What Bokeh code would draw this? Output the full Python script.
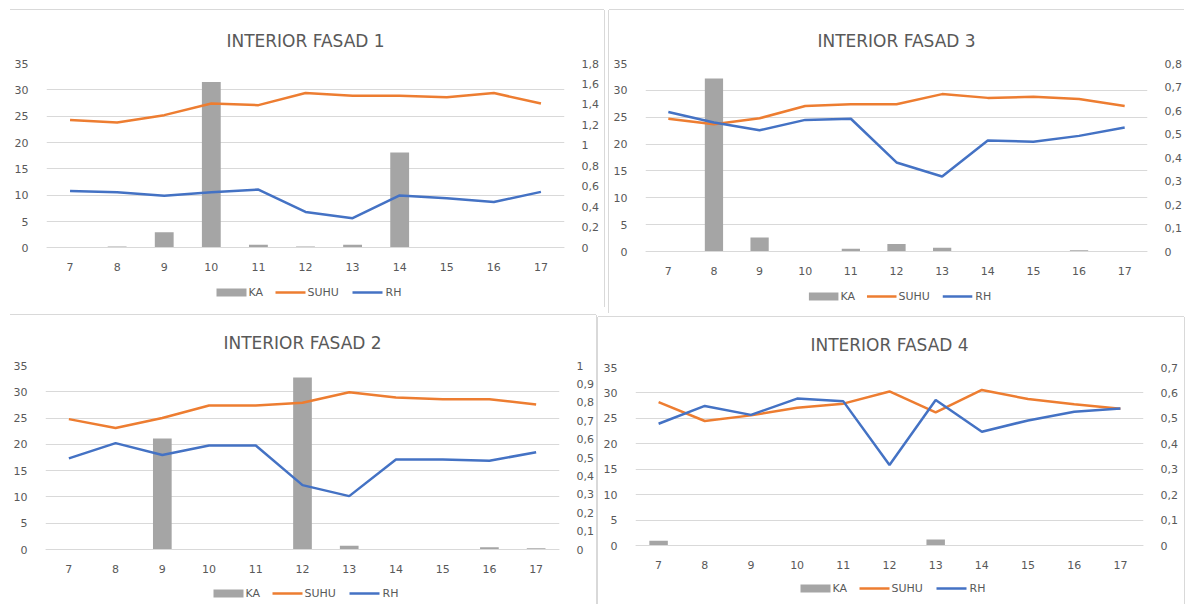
from bokeh.plotting import figure
from bokeh.models import (Range1d, LinearAxis, FixedTicker, FactorRange, Label, BoxAnnotation)
from bokeh.layouts import row, column
from bokeh.embed import file_html
from bokeh.resources import INLINE

HOURS = ["7", "8", "9", "10", "11", "12", "13", "14", "15", "16", "17"]
LEFT_TICKS = [0, 5, 10, 15, 20, 25, 30, 35]
SERIES = ["KA", "SUHU", "RH"]

# INTERIOR FASAD 1
KA_1 = [0, 0.3, 3.0, 31.5, 0.6, 0.3, 0.6, 18.1, 0, 0, 0]
SUHU_1 = [24.3, 23.8, 25.2, 27.4, 27.1, 29.4, 28.9, 28.9, 28.6, 29.4, 27.4]
RH_1 = [0.557, 0.544, 0.509, 0.544, 0.570, 0.351, 0.290, 0.512, 0.486, 0.448, 0.547]
RH_TICKS_1 = [0, 0.2, 0.4, 0.6, 0.8, 1.0, 1.2, 1.4, 1.6, 1.8]

# INTERIOR FASAD 3
KA_3 = [0, 32.2, 2.6, 0, 0.5, 1.4, 0.7, 0, 0, 0.25, 0]
SUHU_3 = [24.7, 23.7, 24.8, 27.1, 27.4, 27.4, 29.3, 28.6, 28.8, 28.4, 27.1]
RH_3 = [0.594, 0.549, 0.516, 0.560, 0.565, 0.379, 0.319, 0.472, 0.467, 0.492, 0.528]
RH_TICKS_3 = [0, 0.1, 0.2, 0.3, 0.4, 0.5, 0.6, 0.7, 0.8]

# INTERIOR FASAD 2
KA_2 = [0, 0, 21.1, 0, 0, 32.7, 0.7, 0, 0, 0.45, 0.25]
SUHU_2 = [24.8, 23.1, 25.0, 27.4, 27.4, 27.9, 29.9, 28.9, 28.6, 28.6, 27.6]
RH_2 = [0.495, 0.578, 0.514, 0.565, 0.565, 0.350, 0.290, 0.489, 0.489, 0.482, 0.529]
RH_TICKS_2 = [0, 0.1, 0.2, 0.3, 0.4, 0.5, 0.6, 0.7, 0.8, 0.9, 1.0]

# INTERIOR FASAD 4
KA_4 = [1.0, 0, 0, 0, 0, 0, 1.2, 0, 0, 0, 0]
SUHU_4 = [28.2, 24.5, 25.6, 27.1, 27.9, 30.3, 26.2, 30.6, 28.8, 27.8, 26.9]
RH_4 = [0.479, 0.549, 0.514, 0.578, 0.567, 0.317, 0.572, 0.448, 0.492, 0.526, 0.539]
RH_TICKS_4 = [0, 0.1, 0.2, 0.3, 0.4, 0.5, 0.6, 0.7]

FONT = "DejaVu Sans"
TXT = "#595959"
GRID = "#d9d9d9"
C_KA = "#a5a5a5"
C_SUHU = "#ed7d31"
C_RH = "#4472c4"
COLORS = [C_KA, C_SUHU, C_RH]


def comma(t):
    return ("%g" % t).replace(".", ",")


def make_panel(title, ka, suhu, rh, rh_ticks, width, height, borders, margin, shadow,
               plot_px, legend_gap):
    bl, br, bt, bb = borders
    fh = height - bt - bb            # frame height in px
    fw = width - bl - br             # frame width in px
    k = plot_px / 35.0               # px per left-axis unit
    ymin = -35.0 * (fh - plot_px) / plot_px   # room under 0 for labels + legend
    rmax = rh_ticks[-1]
    p = figure(x_range=FactorRange(*HOURS, range_padding=0),
               y_range=Range1d(ymin, 35),
               width=width, height=height,
               output_backend="svg", toolbar_location=None,
               min_border_left=bl, min_border_right=br,
               min_border_top=bt, min_border_bottom=bb)
    p.margin = margin
    p.styles = {"box-shadow": shadow}
    p.outline_line_color = None
    p.extra_y_ranges = {"rh": Range1d(rmax * ymin / 35.0, rmax)}

    p.title.text = title
    p.title.align = "center"
    p.title.text_font = FONT
    p.title.text_font_size = "17px"
    p.title.text_font_style = "normal"
    p.title.text_color = TXT
    p.title.standoff = 26

    p.vbar(x=HOURS, top=ka, width=0.4, fill_color=C_KA, line_color=None)
    p.line(x=HOURS, y=suhu, line_color=C_SUHU, line_width=2.5)
    p.line(x=HOURS, y=rh, line_color=C_RH, line_width=2.5, y_range_name="rh")

    p.xgrid.grid_line_color = None
    p.ygrid.grid_line_color = GRID
    p.ygrid.ticker = FixedTicker(ticks=LEFT_TICKS)

    ar = LinearAxis(y_range_name="rh", ticker=FixedTicker(ticks=rh_ticks))
    ar.major_label_overrides = {t: comma(t) for t in rh_ticks}
    p.add_layout(ar, "right")
    p.yaxis[0].ticker = FixedTicker(ticks=LEFT_TICKS)
    for a in [p.xaxis[0], p.yaxis[0], ar]:
        a.axis_line_color = None
        a.major_tick_line_color = None
        a.minor_tick_line_color = None
        a.major_label_text_font = FONT
        a.major_label_text_font_size = "11px"
        a.major_label_text_color = TXT
    p.xaxis[0].fixed_location = 0
    p.xaxis[0].axis_line_color = GRID
    p.xaxis[0].major_label_standoff = 9
    p.yaxis[0].major_label_standoff = 12
    ar.major_label_standoff = 11

    # legend (KA box, SUHU line, RH line) centred under the plot area
    step = fw / 11.0
    ly = -legend_gap / k

    def sx(d):
        return 5.5 + d / step

    sw_left = [-89, -30, 47]
    sw_h = [8, 2.5, 2.5]
    text_x = [-57, 2, 80]
    for s0, sh, col, tx, name in zip(sw_left, sw_h, COLORS, text_x, SERIES):
        p.add_layout(BoxAnnotation(left=sx(s0), right=sx(s0 + 30),
                                   bottom=ly - sh / 2.0 / k, top=ly + sh / 2.0 / k,
                                   fill_color=col, fill_alpha=1.0, line_color=None))
        p.add_layout(Label(x=sx(tx), y=ly, text=name,
                           text_font=FONT, text_font_size="11px", text_color=TXT,
                           text_align="left", text_baseline="middle"))
    return p


TOP = "0 -1px 0 0 #d9d9d9"
RIGHT = "1px 0 0 0 #d9d9d9"
LEFT = "-1px 0 0 0 #d9d9d9"

p1 = make_panel("INTERIOR FASAD 1", KA_1, SUHU_1, RH_1, RH_TICKS_1,
                594, 297, (36, 40, 51, 5), (10, 0, 0, 10), TOP + ", " + RIGHT, 186, 45)
p3 = make_panel("INTERIOR FASAD 3", KA_3, SUHU_3, RH_3, RH_TICKS_3,
                575, 303, (36, 29, 53, 5), (10, 0, 0, 5), TOP + ", " + LEFT, 188, 45)
p2 = make_panel("INTERIOR FASAD 2", KA_2, SUHU_2, RH_2, RH_TICKS_2,
                586, 289, (35, 37, 50, 5), (2, 0, 0, 10), TOP + ", " + RIGHT, 184, 44)
p4 = make_panel("INTERIOR FASAD 4", KA_4, SUHU_4, RH_4, RH_TICKS_4,
                586, 287, (37, 41, 49, 5), (4, 0, 0, 2), TOP + ", " + LEFT + ", " + RIGHT, 179, 43)

layout = column(row(p1, p3), row(p2, p4))

open("out.html", "w").write(file_html(layout, INLINE))
